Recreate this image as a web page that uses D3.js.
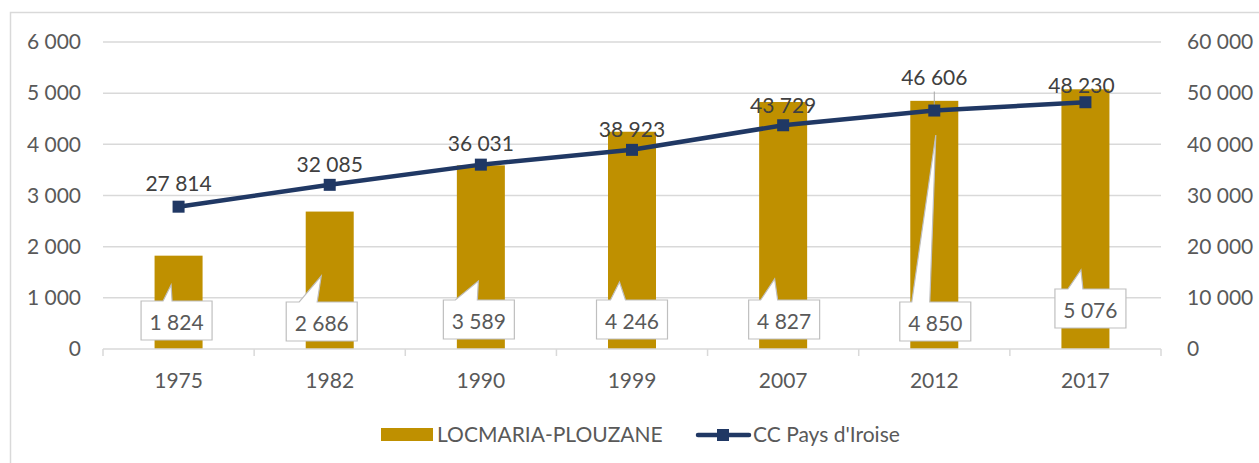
<!DOCTYPE html>
<html>
<head>
<meta charset="utf-8">
<script src="https://cdn.jsdelivr.net/npm/d3@7"></script>
<style>
  body { margin: 0; background: #fff; }
  text { font-family: Lato, "Open Sans", sans-serif; }
</style>
</head>
<body>
<svg id="chart" width="1259" height="463"></svg>
<script>
// data
const years = ["1975", "1982", "1990", "1999", "2007", "2012", "2017"];
const communeValues = [1824, 2686, 3589, 4246, 4827, 4850, 5076];
const ccValues = [27814, 32085, 36031, 38923, 43729, 46606, 48230];
const leftTicks = [0, 1000, 2000, 3000, 4000, 5000, 6000];
const rightTicks = [0, 10000, 20000, 30000, 40000, 50000, 60000];
const seriesNames = ["LOCMARIA-PLOUZANE", "CC Pays d'Iroise"];

// callouts were dragged around by hand in the original, so keep their layout apart
// [box dx from band centre, box top y, tip dx from box left, tip y, base x0, base x1 (from box left)]
const calloutLayout = [
  [-2, 301, 30, 285, 22, 31],
  [-8, 302, 35, 276, 13, 31],
  [-2, 300, 35, 281, 12, 34],
  [0, 300, 23, 282, 14, 29],
  [1, 300, 26, 279, 12, 29],
  [1, 302, 36, 135, 12, 30],
  [5, 289, 26, 270, 13, 28]
];
// line label y offsets above the point
const lineLabelDy = [-23, -20, -21, -20, -20, -33, -17];
const lineLabelDx = [0, 0, 0, 0, 0, 0, -4];

const gold = "#BF9000", navy = "#203864", grid = "#D9D9D9", textCol = "#595959";
const fmt = v => d3.format(",")(v).replace(/,/g, " ");

const svg = d3.select("#chart");
const margin = {left: 103, right: 1161, top: 42, bottom: 349};

// chart area border
svg.append("rect")
    .attr("x", 10.5).attr("y", 12.5)
    .attr("width", 1300).attr("height", 500)
    .attr("fill", "none").attr("stroke", grid).attr("stroke-width", 1.5);

const x = d3.scaleBand().domain(years).range([margin.left, margin.right]);
const yL = d3.scaleLinear().domain([0, 6000]).range([margin.bottom, margin.top]);
const yR = d3.scaleLinear().domain([0, 60000]).range([margin.bottom, margin.top]);

// gridlines
svg.append("g").selectAll("line")
  .data(leftTicks.slice(1))
  .join("line")
    .attr("x1", margin.left).attr("x2", margin.right)
    .attr("y1", d => yL(d)).attr("y2", d => yL(d))
    .attr("stroke", grid).attr("stroke-width", 1.5);

// left axis
const leftAxis = svg.append("g")
    .attr("transform", `translate(${margin.left - 22},0)`)
    .call(d3.axisLeft(yL).tickValues(leftTicks).tickFormat(fmt).tickSize(0).tickPadding(0));
leftAxis.select(".domain").remove();
leftAxis.selectAll("text").attr("fill", textCol).style("font-size", "21px")
    .style("font-family", "Lato, sans-serif");

// right axis
const rightAxis = svg.append("g")
    .attr("transform", `translate(${margin.right + 26},0)`)
    .call(d3.axisRight(yR).tickValues(rightTicks).tickFormat(fmt).tickSize(0).tickPadding(0));
rightAxis.select(".domain").remove();
rightAxis.selectAll("text").attr("fill", textCol).style("font-size", "21px")
    .style("font-family", "Lato, sans-serif");

// bars
const barW = 48;
svg.append("g").selectAll("rect")
  .data(communeValues)
  .join("rect")
    .attr("x", (d, i) => x(years[i]) + x.bandwidth() / 2 - barW / 2)
    .attr("y", d => yL(d))
    .attr("width", barW)
    .attr("height", d => yL(0) - yL(d))
    .attr("fill", gold);

// x axis line + ticks
const xAxis = svg.append("g");
xAxis.append("line")
    .attr("x1", margin.left).attr("x2", margin.right)
    .attr("y1", margin.bottom).attr("y2", margin.bottom)
    .attr("stroke", grid).attr("stroke-width", 1.5);
const bounds = years.map(y => x(y)).concat([margin.right]);
xAxis.selectAll(".tk").data(bounds).join("line")
    .attr("x1", d => d).attr("x2", d => d)
    .attr("y1", margin.bottom).attr("y2", margin.bottom + 7)
    .attr("stroke", grid).attr("stroke-width", 1.5);
xAxis.selectAll("text").data(years).join("text")
    .attr("x", d => x(d) + x.bandwidth() / 2)
    .attr("y", 381)
    .attr("dy", "0.35em")
    .attr("text-anchor", "middle")
    .attr("fill", textCol)
    .style("font-size", "21px")
    .text(d => d);

// callouts for bar values
const boxW = 71, boxH = 39;
const callouts = svg.append("g").selectAll("g")
  .data(communeValues)
  .join("g");
callouts.append("path")
    .attr("d", (d, i) => {
      const c = calloutLayout[i];
      const bx = x(years[i]) + x.bandwidth() / 2 - boxW / 2 + c[0];
      const by = c[1];
      return `M${bx},${by} H${bx + c[4]} L${bx + c[2]},${c[3]} L${bx + c[5]},${by} H${bx + boxW} V${by + boxH} H${bx} Z`;
    })
    .attr("fill", "#fff")
    .attr("stroke", "#BFBFBF")
    .attr("stroke-width", 1.2);
callouts.append("text")
    .attr("x", (d, i) => x(years[i]) + x.bandwidth() / 2 + calloutLayout[i][0])
    .attr("y", (d, i) => calloutLayout[i][1] + boxH / 2 + 2)
    .attr("dy", "0.35em")
    .attr("text-anchor", "middle")
    .attr("fill", textCol)
    .style("font-size", "21px")
    .text(d => fmt(d));

// line series
const cx = i => x(years[i]) + x.bandwidth() / 2;
const line = d3.line().x((d, i) => cx(i)).y(d => yR(d));
svg.append("path")
    .datum(ccValues)
    .attr("d", line)
    .attr("fill", "none")
    .attr("stroke", navy)
    .attr("stroke-width", 4.5)
    .attr("stroke-linejoin", "round");

// leader line for 46 606
svg.append("line")
    .attr("x1", cx(5)).attr("x2", cx(5))
    .attr("y1", yR(ccValues[5]) + lineLabelDy[5] + 14)
    .attr("y2", yR(ccValues[5]))
    .attr("stroke", "#A6A6A6").attr("stroke-width", 1);

const mk = 12;
svg.append("g").selectAll("rect")
  .data(ccValues)
  .join("rect")
    .attr("x", (d, i) => cx(i) - mk / 2)
    .attr("y", d => yR(d) - mk / 2)
    .attr("width", mk).attr("height", mk)
    .attr("fill", navy);

svg.append("g").selectAll("text")
  .data(ccValues)
  .join("text")
    .attr("x", (d, i) => cx(i) + lineLabelDx[i])
    .attr("y", (d, i) => yR(d) + lineLabelDy[i])
    .attr("dy", "0.35em")
    .attr("text-anchor", "middle")
    .attr("fill", "#404040")
    .style("font-size", "21px")
    .text(d => fmt(d));

// legend
const lg = svg.append("g");
lg.append("rect").attr("x", 381).attr("y", 428).attr("width", 52).attr("height", 13).attr("fill", gold);
lg.append("text").attr("x", 437).attr("y", 435).attr("dy", "0.35em")
    .attr("fill", textCol).style("font-size", "21px").text(seriesNames[0]);
lg.append("line").attr("x1", 698).attr("x2", 749).attr("y1", 435).attr("y2", 435)
    .attr("stroke", navy).attr("stroke-width", 4.5).attr("stroke-linecap", "round");
lg.append("rect").attr("x", 723 - mk / 2).attr("y", 435 - mk / 2).attr("width", mk).attr("height", mk).attr("fill", navy);
lg.append("text").attr("x", 753).attr("y", 435).attr("dy", "0.35em")
    .attr("fill", textCol).style("font-size", "21px").text(seriesNames[1]);
</script>
</body>
</html>
